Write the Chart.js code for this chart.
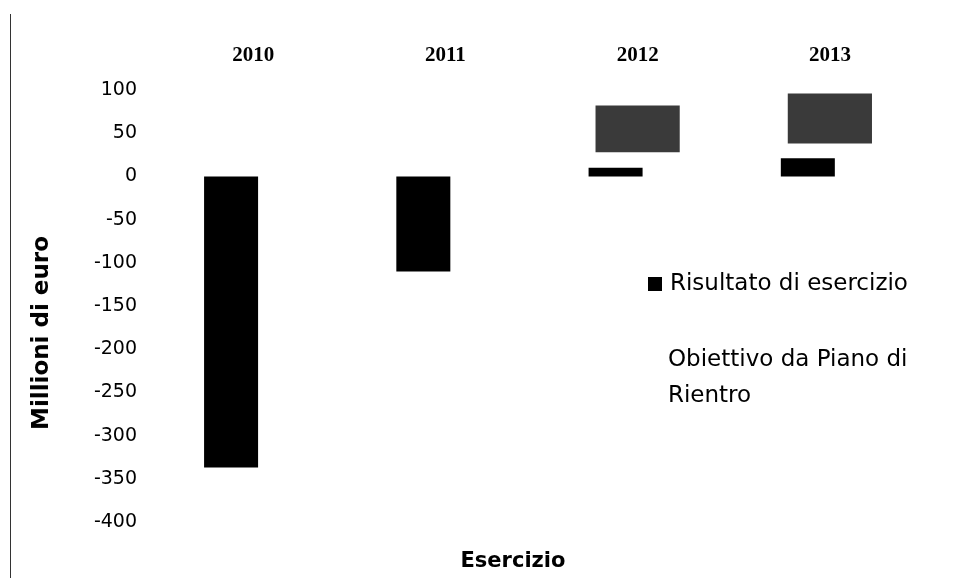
<!DOCTYPE html>
<html>
<head>
<meta charset="utf-8">
<script src="https://cdn.jsdelivr.net/npm/chart.js@4.4.1/dist/chart.umd.min.js"></script>
<style>
html,body{margin:0;padding:0;background:#fff;}
#wrap{position:relative;width:953px;height:578px;}
#edge{position:absolute;left:10px;top:14px;width:1px;height:564px;background:#333;}
.leg{position:absolute;font-family:"DejaVu Sans",sans-serif;font-size:23px;color:#000;line-height:36px;white-space:nowrap;}
.sw{display:inline-block;width:14px;height:14px;background:#000;margin-right:8px;vertical-align:-1px;}
.ttl{position:absolute;font-family:"DejaVu Sans",sans-serif;font-weight:bold;color:#000;white-space:nowrap;}
</style>
</head>
<body>
<div id="wrap">
<canvas id="c" width="953" height="578"></canvas>
<div id="edge"></div>
<div class="leg" style="left:648px;top:264px;"><span class="sw"></span>Risultato di esercizio</div>
<div class="leg" style="left:668px;top:340px;">Obiettivo da Piano di<br>Rientro</div>
<div class="ttl" id="ytitle" style="font-size:23px;left:40px;top:333px;transform:translate(-50%,-50%) rotate(-90deg);">Millioni di euro</div>
<div class="ttl" id="xtitle" style="font-size:21px;left:513px;top:560px;transform:translate(-50%,-50%);">Esercizio</div>
</div>
<script>
const categories = ["2010", "2011", "2012", "2013"];
const risultato = [-337, -110, 10, 21];
const obiettivo = [null, null, [28, 82], [38, 96]];
const yTicks = { min: -400, max: 100, step: 50 };
const seriesNames = ["Risultato di esercizio", "Obiettivo da Piano di Rientro"];

new Chart(document.getElementById('c'), {
  type: 'bar',
  data: {
    labels: categories,
    datasets: [
      { label: seriesNames[0], data: risultato, backgroundColor: '#000', barPercentage: 2.45, categoryPercentage: 0.344 },
      { label: seriesNames[1], data: obiettivo, backgroundColor: '#3a3a3a', barPercentage: 3.82, categoryPercentage: 0.344 },
      { label: '', data: [null, null, null, null], backgroundColor: 'rgba(0,0,0,0)', categoryPercentage: 0.344 }
    ]
  },
  options: {
    responsive: false,
    animation: false,
    layout: { padding: { left: 0, right: 27, top: 0, bottom: 56 } },
    plugins: { legend: { display: false }, tooltip: { enabled: false } },
    scales: {
      x: {
        position: 'top',
        grid: { display: false, drawTicks: false },
        border: { display: false },
        ticks: { padding: 22, color: '#000', font: { family: '"Liberation Serif"', size: 21, weight: 'bold' } },
        afterFit: s => { s.height = 90; }
      },
      y: {
        min: yTicks.min, max: yTicks.max,
        grid: { display: false, drawTicks: false },
        border: { display: false },
        ticks: { stepSize: yTicks.step, padding: 20, color: '#000', font: { family: '"DejaVu Sans"', size: 19 } },
        afterFit: s => { s.width = 157; }
      }
    }
  }
});
</script>
</body>
</html>
